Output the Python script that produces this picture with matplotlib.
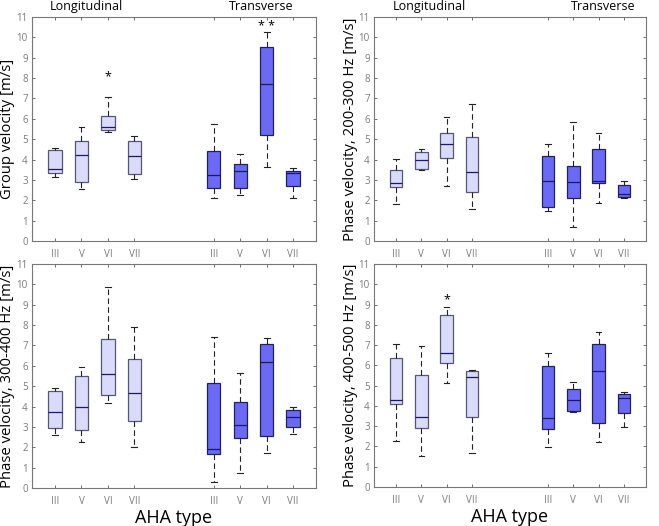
import matplotlib
matplotlib.use("Agg")
import matplotlib.pyplot as plt

plt.rcParams['font.family'] = ['Open Sans', 'DejaVu Sans']

types = ['III', 'V', 'VI', 'VII']
pos_long = [1, 2, 3, 4]
pos_trans = [7, 8, 9, 10]

# each box: [low whisker, q1, median, q3, high whisker]
group_long = [[3.12, 3.32, 3.52, 4.48, 4.55],
              [2.57, 2.88, 4.2, 4.9, 5.58],
              [5.36, 5.45, 5.58, 6.15, 7.07],
              [3.03, 3.28, 4.17, 4.93, 5.15]]
group_trans = [[2.12, 2.6, 3.24, 4.4, 5.72],
               [2.24, 2.6, 3.44, 3.8, 4.25],
               [3.65, 5.19, 7.72, 9.5, 10.28],
               [2.12, 2.7, 3.36, 3.45, 3.57]]

p200_long = [[1.8, 2.64, 2.86, 3.5, 4.05],
             [3.49, 3.52, 4.0, 4.35, 4.5],
             [2.7, 4.08, 4.75, 5.3, 6.07],
             [1.55, 2.4, 3.38, 5.09, 6.72]]
p200_trans = [[1.46, 1.65, 2.96, 4.15, 4.76],
              [0.67, 2.1, 2.89, 3.66, 5.86],
              [1.86, 2.85, 2.95, 4.5, 5.31],
              [2.12, 2.18, 2.33, 2.74, 2.97]]

p300_long = [[2.59, 2.93, 3.75, 4.78, 4.93],
             [2.25, 2.84, 3.99, 5.48, 5.92],
             [4.16, 4.55, 5.58, 7.3, 9.85],
             [1.99, 3.3, 4.69, 6.34, 7.92]]
p300_trans = [[0.32, 1.68, 1.9, 5.15, 7.42],
              [0.74, 2.44, 3.11, 4.2, 5.65],
              [1.7, 2.55, 6.21, 7.07, 7.38],
              [2.65, 3.0, 3.51, 3.83, 4.0]]

p400_long = [[2.29, 4.11, 4.28, 6.35, 7.04],
             [1.51, 2.9, 3.45, 5.54, 6.94],
             [5.13, 6.12, 6.63, 8.46, 8.87],
             [1.69, 3.45, 5.44, 5.73, 5.76]]
p400_trans = [[1.99, 2.88, 3.42, 5.99, 6.63],
              [3.71, 3.75, 4.3, 4.84, 5.16],
              [2.21, 3.16, 5.72, 7.04, 7.65],
              [2.98, 3.66, 4.38, 4.58, 4.68]]

ylabels = ['Group velocity [m/s]', 'Phase velocity, 200-300 Hz [m/s]',
           'Phase velocity, 300-400 Hz [m/s]', 'Phase velocity, 400-500 Hz [m/s]']
panels = [(group_long, group_trans), (p200_long, p200_trans),
          (p300_long, p300_trans), (p400_long, p400_trans)]
# significance marks: (panel, position, text, y)
stars = [(0, 3, '*', 8.05), (0, 9, '* *', 10.55), (3, 3, '*', 9.25)]
# group headings above the top panels: (panel, x, text)
headings = [(0, 2.2, 'Longitudinal'), (0, 8.8, 'Transverse'),
            (1, 2.3, 'Longitudinal'), (1, 9.2, 'Transverse')]

light = '#dadafa'
dark = '#6a6af6'
tickgray = '#7a7a7a'

fig = plt.figure(figsize=(6.59, 5.26), dpi=100)
rects = [[0.0486, 0.5418, 0.431, 0.426],
         [0.5675, 0.5418, 0.4127, 0.426],
         [0.0486, 0.0722, 0.431, 0.4259],
         [0.5675, 0.0741, 0.4127, 0.4240]]


def stats(data, labels):
    out = []
    for d, lab in zip(data, labels):
        out.append(dict(whislo=d[0], q1=d[1], med=d[2], q3=d[3], whishi=d[4],
                        fliers=[], label=lab))
    return out


for i, (rect, (dl, dt)) in enumerate(zip(rects, panels)):
    ax = fig.add_axes(rect)
    for data, pos, fc, ec in [(dl, pos_long, light, '#555577'),
                              (dt, pos_trans, dark, '#22225a')]:
        ax.bxp(stats(data, types), positions=pos, widths=0.5, capwidths=0.22,
               patch_artist=True, showfliers=False,
               boxprops=dict(facecolor=fc, edgecolor=ec, linewidth=0.9),
               medianprops=dict(color='#1a1a66', linewidth=0.9),
               whiskerprops=dict(color='#222222', linewidth=0.8, linestyle=(0, (5, 3))),
               capprops=dict(color='#222222', linewidth=0.8))
    ax.set_xlim(0.13, 10.87)
    ax.set_ylim(0, 11)
    ax.set_yticks(range(0, 12))
    ax.set_xticks(pos_long + pos_trans)
    ax.set_xticklabels(types + types)
    ax.tick_params(direction='in', length=2.5, width=0.6, colors='#555555',
                   labelcolor=tickgray, labelsize=7, top=True, right=True, pad=6)
    ax.tick_params(axis='y', pad=3)
    for s in ax.spines.values():
        s.set_color('#777777')
        s.set_linewidth(0.8)
    ax.set_ylabel(ylabels[i], fontsize=10.7)
    ax.yaxis.set_label_coords(-0.06, 0.5)
    for p, x, t, y in stars:
        if p == i:
            ax.text(x, y, t, ha='center', va='center', fontsize=9)
    for p, x, t in headings:
        if p == i:
            ax.text(x, 11.2, t, ha='center', va='bottom', fontsize=9)
    if i >= 2:
        ax.set_xlabel('AHA type', fontsize=13)
        ax.xaxis.set_label_coords(0.5, -0.095)

fig.savefig('out.png', dpi=100)
